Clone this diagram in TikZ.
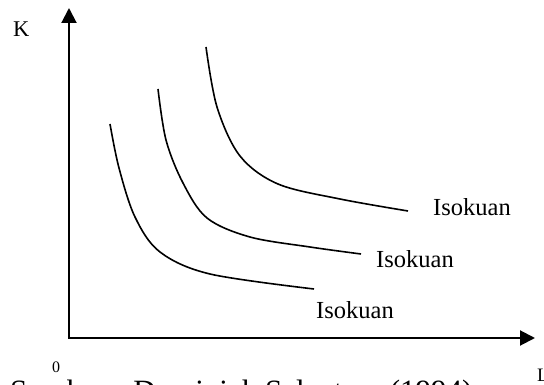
\documentclass[tikz,border=0pt]{standalone}
\usepackage{fontspec}
\setmainfont{Liberation Serif}
\usetikzlibrary{arrows.meta}
\tikzset{
  axis/.style={line width=2pt, line join=miter, {Triangle[length=15pt,width=15pt]}-{Triangle[length=15pt,width=15pt]}},
  isoq/.style={line width=1.6pt, smooth, tension=0.55},
  lbl/.style={anchor=base west, inner sep=0pt, font=\fontsize{24.5}{28}\selectfont},
}
\begin{document}
\begin{tikzpicture}[x=1pt, y=-1pt]
\useasboundingbox (0,0) rectangle (544,385);
% axes
\coordinate (Ktip) at (69,8);
\coordinate (O) at (69,338);
\coordinate (Ltip) at (535,338);
\draw[axis] (Ktip) -- (O) -- (Ltip);
% axis labels
\node[anchor=base west, inner sep=0pt, font=\fontsize{22.5}{26}\selectfont] (K) at (13,36.5) {K};
\node[anchor=base west, inner sep=0pt, font=\fontsize{16}{19}\selectfont] (zero) at (52,372.5) {0};
\node[anchor=base west, inner sep=0pt, font=\fontsize{19}{22}\selectfont] (L) at (537,381) {L};
% isoquants
\draw[isoq] plot coordinates {(206,47) (217,107) (240,156) (278,184) (340,199) (408,211)};
\draw[isoq] plot coordinates {(158,89) (166,140) (183,183) (207,218) (250,237) (310,247) (361,254)};
\draw[isoq] plot coordinates {(110,124) (119,168) (135,217) (160,252) (210,274) (314,289)};
% labels
\node[lbl] (I3) at (433,215) {Isokuan};
\node[lbl] (I2) at (376,267) {Isokuan};
\node[lbl] (I1) at (316,318) {Isokuan};
% source line (cut by the page edge, as in the reference)
\node[anchor=base west, inner sep=0pt, font=\fontsize{31}{36}\selectfont] (src) at (10,401) {Sumber : Dominick Salvatore (1994)};
\end{tikzpicture}
\end{document}
